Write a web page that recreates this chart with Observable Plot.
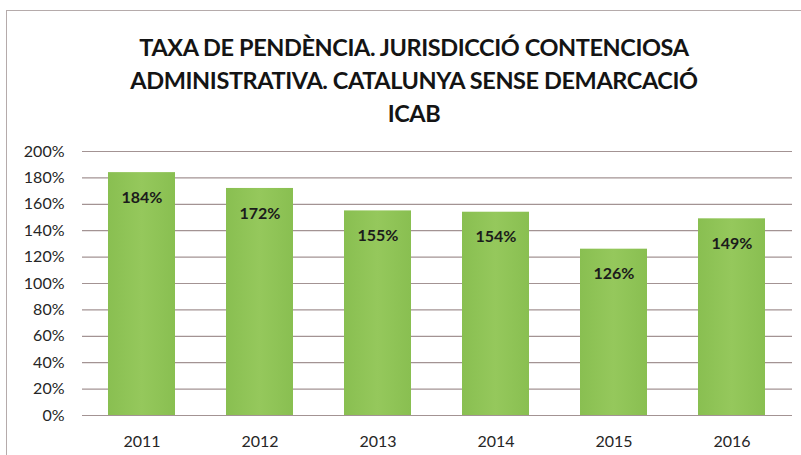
<!DOCTYPE html>
<html>
<head>
<meta charset="utf-8">
<script src="https://cdn.jsdelivr.net/npm/d3@7"></script>
<script src="https://cdn.jsdelivr.net/npm/@observablehq/plot@0.6"></script>
<style>
  html, body { margin: 0; padding: 0; background: #fff; overflow: hidden; }
  #wrap { position: relative; width: 801px; height: 455px; overflow: hidden; font-family: Lato, "Open Sans", sans-serif; }
  #frame { position: absolute; left: 6px; top: 10px; width: 820px; height: 470px; border: 1.5px solid #b5abab; box-sizing: border-box; }
  #title { position: absolute; left: 0; width: 828px; top: 31px; text-align: center; font-weight: 700; font-size: 23.5px; line-height: 33px; color: #141414; letter-spacing: -0.4px; }
  #chart { position: absolute; left: 0; top: 130px; }
</style>
</head>
<body>
<div id="wrap">
  <div id="frame"></div>
  <div id="title">TAXA DE PENDÈNCIA. JURISDICCIÓ CONTENCIOSA<br>ADMINISTRATIVA. CATALUNYA SENSE DEMARCACIÓ<br>ICAB</div>
  <div id="chart"></div>
</div>
<script>
const years = ["2011", "2012", "2013", "2014", "2015", "2016"];
const rates = [184, 172, 155, 154, 126, 149];
const yTicks = [0, 20, 40, 60, 80, 100, 120, 140, 160, 180, 200];

const data = years.map((y, i) => ({year: y, rate: rates[i]}));

const plot = Plot.plot({
  width: 801,
  height: 325,
  marginTop: 21,
  marginBottom: 40,
  marginLeft: 82,
  marginRight: 9,
  style: {fontFamily: "Lato, 'Open Sans', sans-serif", fontSize: "16px", color: "#262626", background: "transparent"},
  x: {domain: years, paddingInner: 0.43, paddingOuter: 0.22, label: null},
  y: {domain: [0, 200], label: null},
  marks: [
    Plot.ruleY(yTicks, {stroke: "#a39393", strokeWidth: 1.2}),
    Plot.barY(data, {x: "year", y: "rate", fill: "url(#barGrad)"}),
    Plot.text(data, {x: "year", y: "rate", text: d => d.rate + "%", dy: 25, fontWeight: "bold", fontSize: 16, fill: "#1b1b1b"}),
    Plot.axisY(yTicks, {tickSize: 0, tickPadding: 18, tickFormat: d => d + "%", fontSize: 16}),
    Plot.axisX({tickSize: 0, tickPadding: 20, fontSize: 16})
  ]
});
const ns = "http://www.w3.org/2000/svg";
const defs = document.createElementNS(ns, "defs");
defs.innerHTML = '<linearGradient id="barGrad" x1="0" x2="1" y1="0" y2="0">' +
  '<stop offset="0" stop-color="#89bf51"/><stop offset="0.5" stop-color="#95c85c"/><stop offset="1" stop-color="#89bf51"/></linearGradient>';
plot.insertBefore(defs, plot.firstChild);
document.getElementById("chart").appendChild(plot);
</script>
</body>
</html>
